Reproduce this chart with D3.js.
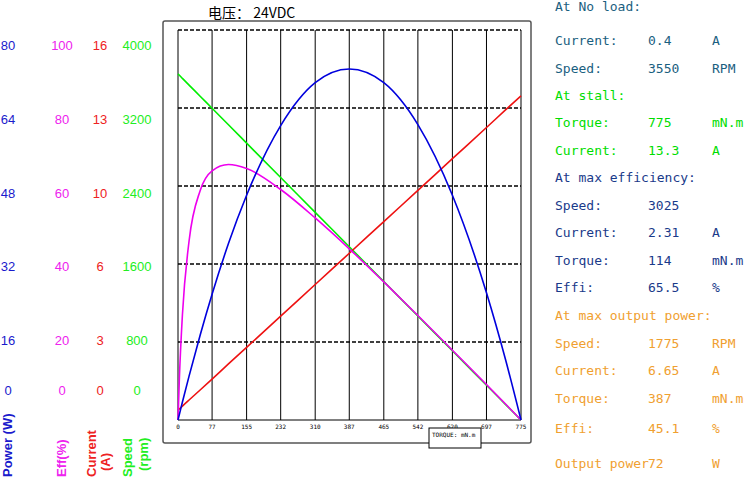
<!DOCTYPE html>
<html><head><meta charset="utf-8">
<script src="https://cdn.jsdelivr.net/npm/d3@7"></script>
<style>body{margin:0;background:#fff}text{font-family:"DejaVu Sans Mono",monospace}</style>
</head><body>
<svg id="chart" width="750" height="479"></svg>
<script>
// DATA
const torqueTicks = [0, 77, 155, 232, 310, 387, 465, 542, 620, 697, 775];
const torque = [0, 3, 10, 25, 50, 77, 114, 155, 232, 310, 387, 465, 542, 620, 697, 740, 775];
const speed = [3550, 3536, 3504, 3435, 3321, 3197, 3028, 2840, 2487, 2130, 1777, 1420, 1067, 710, 357, 160, 0];
const current = [0.4, 0.45, 0.57, 0.82, 1.23, 1.68, 2.3, 2.98, 4.26, 5.56, 6.84, 8.14, 9.42, 10.72, 12.0, 12.72, 13.3];
const power = [0, 1.1, 3.7, 9.0, 17.4, 25.8, 36.2, 46.1, 60.4, 69.2, 72.0, 69.2, 60.6, 46.1, 26.1, 12.4, 0];
const eff = [0, 10.3, 27.0, 45.9, 58.8, 63.9, 65.5, 64.5, 59.1, 51.8, 43.9, 35.4, 26.8, 17.9, 9.1, 4.1, 0];
const powerTicks = [0, 16, 32, 48, 64, 80];
const effTicks = [0, 20, 40, 60, 80, 100];
const currentTicks = [0, 3, 6, 10, 13, 16];
const speedTicks = [0, 800, 1600, 2400, 3200, 4000];
const info = [
  ["At No load:", "", "", "#1a6080"],
  ["Current:", "0.4", "A", "#1a6080"],
  ["Speed:", "3550", "RPM", "#1a6080"],
  ["At stall:", "", "", "#00dd00"],
  ["Torque:", "775", "mN.m", "#00dd00"],
  ["Current:", "13.3", "A", "#00dd00"],
  ["At max efficiency:", "", "", "#1a3a8a"],
  ["Speed:", "3025", "", "#1a3a8a"],
  ["Current:", "2.31", "A", "#1a3a8a"],
  ["Torque:", "114", "mN.m", "#1a3a8a"],
  ["Effi:", "65.5", "%", "#1a3a8a"],
  ["At max output power:", "", "", "#f0a030"],
  ["Speed:", "1775", "RPM", "#f0a030"],
  ["Current:", "6.65", "A", "#f0a030"],
  ["Torque:", "387", "mN.m", "#f0a030"],
  ["Effi:", "45.1", "%", "#f0a030"],
  ["Output power", "72", "W", "#f0a030"]
];
const infoY = [6, 40, 68, 95, 122, 150, 177, 205, 232, 260, 287, 315, 343, 370, 398, 428, 463];

const svg = d3.select("#chart");
const L = 178, R = 521, T = 30, B = 420;
const x = d3.scaleLinear().domain([0, 775]).range([L, R]);
const yFrac = d3.scaleLinear().domain([0, 1]).range([B, T]);
const yPow = d3.scaleLinear().domain([0, 80]).range([B, T]);
const yEff = d3.scaleLinear().domain([0, 100]).range([B, T]);
const yCur = d3.scaleLinear().domain([0, 16]).range([B, T]);
const ySpd = d3.scaleLinear().domain([0, 4000]).range([B, T]);
const labelY = d3.scaleLinear().domain([0, 1, 5]).range([390, 340, 45]);

// FRAME
svg.append("rect").attr("x", 163).attr("y", 21).attr("width", 368).attr("height", 422)
  .attr("fill", "none").attr("stroke", "#555").attr("stroke-width", 1.5).attr("rx", 2);
svg.append("text").attr("x", 208).attr("y", 18).attr("font-size", 14)
  .style("font-family", "'Noto Sans CJK SC'").text("电压： 24VDC");

// GRID
torqueTicks.forEach(t => {
  svg.append("line").attr("x1", x(t)).attr("x2", x(t)).attr("y1", T).attr("y2", B)
    .attr("stroke", "#000").attr("stroke-width", 1);
});
d3.range(0, 6).forEach(i => {
  svg.append("line").attr("x1", L).attr("x2", R).attr("y1", yFrac(i / 5)).attr("y2", yFrac(i / 5))
    .attr("stroke", "#000").attr("stroke-width", i === 0 ? 1 : 1.3)
    .attr("stroke-dasharray", i === 0 ? null : "4,2");
});
svg.selectAll(".xt").data(torqueTicks).enter().append("text")
  .attr("x", d => x(d)).attr("y", 429).attr("text-anchor", "middle")
  .attr("font-size", 6).text(d => d);
svg.append("rect").attr("x", 429).attr("y", 428).attr("width", 52).attr("height", 20)
  .attr("fill", "#fff").attr("stroke", "#000");
svg.append("text").attr("x", 432).attr("y", 437).attr("font-size", 6).text("TORQUE: mN.m");

// CURVES
const series = [
  [speed, ySpd, "#00ee00"],
  [current, yCur, "#ee1111"],
  [eff, yEff, "#ee00ee"],
  [power, yPow, "#0000dd"]
];
series.forEach(([vals, ys, col]) => {
  const line = d3.line().curve(d3.curveMonotoneX).x((d, i) => x(torque[i])).y(d => ys(d));
  svg.append("path").datum(vals).attr("d", line).attr("fill", "none")
    .attr("stroke", col).attr("stroke-width", 1.6);
});

// LEFT AXIS LABELS
const cols = [
  [powerTicks, 8, "#1a1acc", ["Power (W)"], [12]],
  [effTicks, 62, "#ee22ee", ["Eff(%)"], [66]],
  [currentTicks, 100, "#ee2222", ["Current", "(A)"], [96, 110]],
  [speedTicks, 137, "#22ee22", ["Speed", "(rpm)"], [132, 148]]
];
cols.forEach(([ticks, cx, col, title, tx]) => {
  svg.selectAll(null).data(ticks).enter().append("text")
    .attr("x", cx).attr("y", (d, i) => labelY(i) + 5).attr("text-anchor", "middle")
    .attr("font-size", 13).attr("fill", col).style("font-family", "Arial, 'Liberation Sans'")
    .text(d => d);
  title.forEach((t, k) => {
    svg.append("text").attr("transform", `translate(${tx[k]},${477 - k * 6}) rotate(-90)`)
      .attr("font-size", 13).attr("font-weight", "bold").attr("fill", col)
      .style("font-family", "Arial, 'Liberation Sans'").text(t);
  });
});

// INFO PANEL
info.forEach((r, i) => {
  const g = svg.append("g").attr("fill", r[3]).attr("font-size", 13);
  g.append("text").attr("x", 555).attr("y", infoY[i] + 5).text(r[0]);
  g.append("text").attr("x", 648).attr("y", infoY[i] + 5).text(r[1]);
  g.append("text").attr("x", 712).attr("y", infoY[i] + 5).text(r[2]);
});
</script>
</body></html>
